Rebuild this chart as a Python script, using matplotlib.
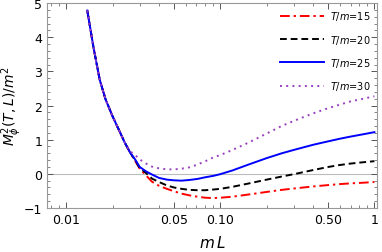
import numpy as np
import matplotlib
matplotlib.use("Agg")
import matplotlib.pyplot as plt
from matplotlib.ticker import FixedLocator, FixedFormatter, MultipleLocator

# values
mL = [0.0137, 0.015, 0.0165, 0.018, 0.02, 0.022, 0.024, 0.026, 0.028, 0.03,
      0.033, 0.036, 0.04, 0.045, 0.05, 0.056, 0.063, 0.071, 0.08, 0.09,
      0.1, 0.12, 0.15, 0.2, 0.25, 0.3, 0.4, 0.5, 0.6, 0.7, 0.85, 1.0]
common = [4.78, 3.72, 2.75, 2.18, 1.68, 1.28, 0.91, 0.62]

m15 = common + [0.38, 0.15, -0.05, -0.23, -0.35, -0.44, -0.51, -0.58, -0.63, -0.67,
                -0.70, -0.71, -0.70, -0.67, -0.61, -0.53, -0.47, -0.43, -0.37, -0.33,
                -0.30, -0.28, -0.26, -0.24]
m20 = common + [0.40, 0.17, 0.02, -0.14, -0.24, -0.34, -0.40, -0.44, -0.47, -0.48,
                -0.48, -0.46, -0.44, -0.38, -0.29, -0.17, -0.08, -0.01, 0.11, 0.20,
                0.26, 0.30, 0.34, 0.37]
m25 = common + [0.42, 0.20, 0.07, -0.02, -0.12, -0.17, -0.19, -0.20, -0.18, -0.15,
                -0.10, -0.06, -0.01, 0.10, 0.26, 0.46, 0.60, 0.70, 0.85, 0.95,
                1.03, 1.09, 1.16, 1.22]
m30 = common[:-1] + [0.66, 0.55, 0.42, 0.30, 0.21, 0.16, 0.13, 0.13, 0.15, 0.19, 0.27,
                     0.37, 0.48, 0.55, 0.70, 0.90, 1.18, 1.40, 1.55, 1.77, 1.92,
                     2.03, 2.12, 2.20, 2.27]

series = [("$T/m$=15", m15, (1, 0, 0), (0, (5, 2, 1.2, 2))),
          ("$T/m$=20", m20, "black", (0, (3.5, 2))),
          ("$T/m$=25", m25, (0, 0, 1), "-"),
          ("$T/m$=30", m30, (0.6, 0.25, 0.75), (0, (1, 2.2)))]

xticks = [0.01, 0.05, 0.1, 0.5, 1]
xticklabels = ["0.01", "0.05", "0.10", "0.50", "1"]

fig = plt.figure(figsize=(3.82, 2.53), dpi=100)
ax = fig.add_axes([0.123, 0.174, 0.864, 0.81])

ax.axhline(0, color="#bbbbbb", lw=0.8, zorder=1)
for lab, y, c, ls in series:
    ax.plot(mL, y, color=c, ls=ls, lw=1.4, label=lab, zorder=2)

ax.set_xscale("log")
ax.set_xlim(0.0075, 1.04)
ax.set_ylim(-1, 5)

ax.xaxis.set_major_locator(FixedLocator(xticks))
ax.xaxis.set_major_formatter(FixedFormatter(xticklabels))
minors = [k * 10.0 ** e for e in (-3, -2, -1) for k in range(1, 10)]
ax.xaxis.set_minor_locator(FixedLocator([v for v in minors if v not in xticks]))
ax.xaxis.set_minor_formatter(FixedFormatter([]))
ax.yaxis.set_major_locator(MultipleLocator(1))
ax.yaxis.set_minor_locator(MultipleLocator(0.2))

ax.tick_params(which="both", direction="in", top=True, right=True,
               color="#555555", labelsize=9)
ax.tick_params(which="major", length=4, width=0.7)
ax.tick_params(which="minor", length=2, width=0.5)
for s in ax.spines.values():
    s.set_color("#999999")
    s.set_linewidth(0.8)

ax.set_xlabel("$m\\,L$", fontsize=11, labelpad=6)
ax.set_ylabel("$M_\\phi^2(T,L)/m^2$", fontsize=10)
ax.yaxis.set_label_coords(-0.07, 0.5)

ax.legend(loc="upper right", frameon=False, fontsize=7, handlelength=4.6,
          handletextpad=0.6, labelspacing=1.05, borderaxespad=0.25,
          bbox_to_anchor=(1.0, 1.0))

fig.savefig("out.png", dpi=100)
